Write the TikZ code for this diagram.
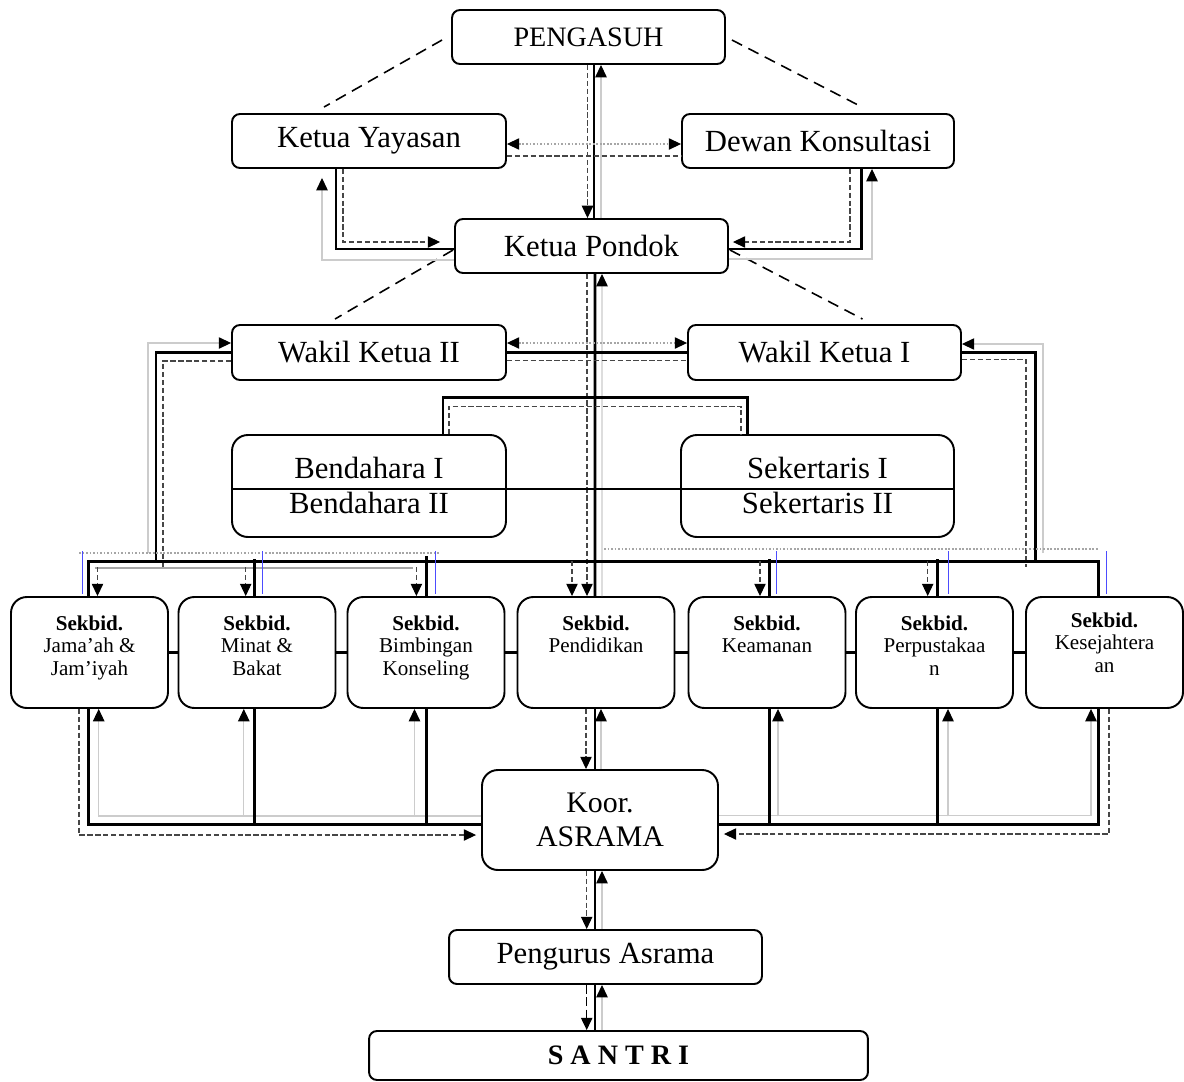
\documentclass[tikz,border=0pt]{standalone}
\usepackage{fontspec}
\setmainfont{Liberation Serif}
\usetikzlibrary{arrows.meta,calc}
\begin{document}
\begin{tikzpicture}[x=0.02cm,y=-0.02cm,
  box/.style={draw, fill=white, line width=1.1pt, rounded corners=4.5pt, inner sep=0pt, align=center, font=\fontsize{17.5}{20}\selectfont},
  sbox/.style={draw, fill=white, line width=1.1pt, rounded corners=9pt, minimum width=3.14cm, minimum height=2.22cm, inner sep=0pt},
  stext/.style={anchor=north, align=center, inner sep=0pt, font=\fontsize{12}{13}\selectfont},
  thk/.style={line width=1.7pt, line cap=rect},
  dsh/.style={draw=gray!55!black, line width=0.6pt, dash pattern=on 3pt off 1.5pt},
  lgt/.style={draw=gray!40, line width=0.6pt},
  dotg/.style={draw=gray!70, line width=0.6pt, dash pattern=on 1pt off 1pt},
  diag/.style={line width=0.9pt, dash pattern=on 6.5pt off 4pt},
  midg/.style={draw=gray!70, line width=1pt},
  bluel/.style={draw=blue!70, line width=0.3pt},
  tip/.style={-{Triangle[length=7pt,width=6.5pt,color=black]}},
  dtip/.style={{Triangle[length=7pt,width=6.5pt,color=black]}-{Triangle[length=7pt,width=6.5pt,color=black]}}
]
\useasboundingbox (0,0) rectangle (1184,1082);
\fill[white] (0,0) rectangle (1184,1082);

% ---------- nodes ----------
\node[box, minimum width=5.46cm, minimum height=1.08cm, font=\fontsize{16}{18}\selectfont] (pg) at (588.5,37) {PENGASUH};
\node[box, minimum width=5.48cm, minimum height=1.08cm] (ky) at (369,141) {Ketua Yayasan};
\node[box, minimum width=5.44cm, minimum height=1.08cm] (dk) at (818,141) {Dewan Konsultasi};
\node[box, minimum width=5.46cm, minimum height=1.08cm] (kp) at (591.5,246) {Ketua Pondok};
\node[box, minimum width=5.48cm, minimum height=1.1cm] (w2) at (369,352.5) {Wakil Ketua II};
\node[box, minimum width=5.46cm, minimum height=1.1cm] (w1) at (824.5,352.5) {Wakil Ketua I};
\node[box, rounded corners=9pt, minimum width=5.48cm, minimum height=2.04cm] (bd) at (369,486) {};
\node[box, rounded corners=9pt, minimum width=5.46cm, minimum height=2.04cm] (sk) at (817.5,486) {};
\node[inner sep=0pt, font=\fontsize{17.5}{20}\selectfont] (bd1) at (369,468) {Bendahara I};
\node[inner sep=0pt, font=\fontsize{17.5}{20}\selectfont] (bd2) at (369,503) {Bendahara II};
\node[inner sep=0pt, font=\fontsize{17.5}{20}\selectfont] (sk1) at (817.5,468) {Sekertaris I};
\node[inner sep=0pt, font=\fontsize{17.5}{20}\selectfont] (sk2) at (817.5,503) {Sekertaris II};

\node[sbox] (s1) at (89.5,652.5) {};
\node[sbox] (s2) at (257,652.5) {};
\node[sbox] (s3) at (426,652.5) {};
\node[sbox] (s4) at (596,652.5) {};
\node[sbox] (s5) at (767,652.5) {};
\node[sbox] (s6) at (934.5,652.5) {};
\node[sbox] (s7) at (1104.5,652.5) {};
\node[stext] (s1t) at ($(s1.north)+(0,19)$) {\textbf{Sekbid.}\\Jama’ah \&\\Jam’iyah};
\node[stext] (s2t) at ($(s2.north)+(0,19)$) {\textbf{Sekbid.}\\Minat \&\\Bakat};
\node[stext] (s3t) at ($(s3.north)+(0,19)$) {\textbf{Sekbid.}\\Bimbingan\\Konseling};
\node[stext] (s4t) at ($(s4.north)+(0,19)$) {\textbf{Sekbid.}\\Pendidikan};
\node[stext] (s5t) at ($(s5.north)+(0,19)$) {\textbf{Sekbid.}\\Keamanan};
\node[stext] (s6t) at ($(s6.north)+(0,19)$) {\textbf{Sekbid.}\\Perpustakaa\\n};
\node[stext] (s7t) at ($(s7.north)+(0,16)$) {\textbf{Sekbid.}\\Kesejahtera\\an};

\node[box, rounded corners=9pt, minimum width=4.72cm, minimum height=2cm, font=\fontsize{17}{19}\selectfont] (ka) at (600,820) {Koor.\\ASRAMA};
\node[box, minimum width=6.26cm, minimum height=1.08cm] (pa) at (605.5,957) {Pengurus Asrama};
\node[box, minimum width=9.98cm, minimum height=0.98cm, font=\fontsize{16}{18}\selectfont\bfseries] (st) at (618.5,1055.5) {S A N T R I};

% ---------- diagonal dashed links ----------
\draw[diag] ($(pg.west)+(-9,3)$) -- ($(ky.north)+(-45,-6)$);
\draw[diag] ($(pg.east)+(6,3)$) -- ($(dk.north)+(44,-6)$);
\draw[diag] ($(kp.west)+(-1,4)$) -- ($(w2.north)+(-34,-5)$);
\draw[diag] ($(kp.east)+(1,4)$) -- ($(w1.north)+(38,-5)$);

% ---------- center column ----------
\draw[thk] ($(pg.south)+(5.5,0)$) -- ($(kp.north)+(2.5,0)$);
\draw[dsh,tip] ($(pg.south)+(-1,0)$) -- ($(kp.north)+(-4,0)$);
\draw[lgt,tip] ($(kp.north)+(9.5,0)$) -- ($(pg.south)+(12.5,0)$);

\draw[thk] ($(kp.south)+(3.5,0)$) -- ($(s4.north)+(-1,0)$);
\draw[dsh,tip] ($(kp.south)+(-4.5,0)$) -- ($(s4.north)+(-9,0)$);
\draw[lgt,tip] ($(s4.north)+(6,0)$) -- ($(kp.south)+(10.5,0)$);

\draw[thk] ($(s4.south)+(-1,0)$) -- ($(ka.north)+(-5,0)$);
\draw[dsh,tip] ($(s4.south)+(-10,0)$) -- ($(ka.north)+(-14,0)$);
\draw[lgt,tip] ($(ka.north)+(1,0)$) -- ($(s4.south)+(5,0)$);

\draw[thk] ($(ka.south)+(-5,0)$) -- ($(pa.north)+(-10.5,0)$);
\draw[dsh,tip] ($(ka.south)+(-13.3,0)$) -- ($(pa.north)+(-18.8,0)$);
\draw[lgt,tip] ($(pa.north)+(-3.5,0)$) -- ($(ka.south)+(2,0)$);

\draw[thk] ($(pa.south)+(-10.5,0)$) -- ($(st.north)+(-23.5,0)$);
\draw[line width=0.8pt, dash pattern=on 5pt off 2pt, tip] ($(pa.south)+(-18.8,0)$) -- ($(st.north)+(-31.8,0)$);
\draw[lgt,tip] ($(st.north)+(-16.5,0)$) -- ($(pa.south)+(-3.5,0)$);

% ---------- Yayasan / Dewan ----------
\draw[dotg,dtip] ($(ky.east)+(0,3)$) -- ($(dk.west)+(0,3)$);
\draw[dsh] ($(ky.east)+(0,15)$) -- ($(dk.west)+(0,15)$);

\draw[thk] ($(ky.south)+(-33,0)$) |- ($(kp.west)+(0,3)$);
\draw[dsh,tip] ($(ky.south)+(-26,0)$) |- ($(kp.west)+(-14,-4)$);
\draw[lgt,tip] ($(kp.west)+(0,14)$) -| ($(ky.south)+(-47,9)$);

\draw[thk] ($(dk.south)+(43,0)$) |- ($(kp.east)+(0,3)$);
\draw[dsh,tip] ($(dk.south)+(32,0)$) |- ($(kp.east)+(4,-4)$);
\draw[lgt,tip] ($(kp.east)+(0,13)$) -| ($(dk.south)+(54,0)$);

% ---------- Wakil Ketua ----------
\draw[dotg,dtip] ($(w2.east)+(0,-9.5)$) -- ($(w1.west)+(0,-9.5)$);
\draw[thk] (w2.east) -- (w1.west);
\draw[dsh] ($(w2.east)+(0,8)$) -- ($(w1.west)+(0,8)$);

\coordinate (cW2t) at (156,561);
\coordinate (cW2d) at (163,567);
\coordinate (cW2l) at (148,553);
\draw[thk] (w2.west) -| (cW2t);
\draw[dsh] ($(w2.west)+(0,8.5)$) -| (cW2d);
\draw[lgt,tip] (cW2l) |- ($(w2.west)+(0,-9.5)$);

\coordinate (cW1t) at (1035,561);
\coordinate (cW1d) at (1026,567);
\coordinate (cW1l) at (1043,553);
\draw[thk] (w1.east) -| (cW1t);
\draw[dsh] ($(w1.east)+(0,7)$) -| (cW1d);
\draw[lgt,tip] (cW1l) |- ($(w1.east)+(0,-8.5)$);

% ---------- Bendahara / Sekertaris ----------
\draw[thk] ($(bd.north)+(74,0)$) |- ($(sk.north)+(-70.5,-37)$) -- ($(sk.north)+(-70.5,0)$);
\draw[dsh] ($(bd.north)+(80,0)$) |- ($(sk.north)+(-76.5,-28)$) -- ($(sk.north)+(-76.5,0)$);
\draw[line width=1.1pt] ($(bd.west)+(0,3)$) -- ($(bd.east)+(0,3)$);
\draw[line width=1.1pt] ($(sk.west)+(0,3)$) -- ($(sk.east)+(0,3)$);
\draw[line width=1.1pt] ($(bd.east)+(0,3)$) -- ($(sk.west)+(0,3)$);

% ---------- top bus ----------
\coordinate (busM) at (600,561);
\coordinate (gL1) at (79,553);
\coordinate (gL2) at (439,553);
\coordinate (gR1) at (604,549);
\coordinate (gR2) at (1098,549);
\coordinate (gM1) at (94.5,568);
\coordinate (gM2) at (413,568);
\draw[dotg] (gL1) -- (gL2);
\draw[dotg] (gR1) -- (gR2);
\draw[midg] (gM1) -- (gM2);
\draw[thk] ($(s1.north)+(-0.7,0)$) |- (busM) -| ($(s7.north)+(-6.5,0)$);
\draw[thk] ($(s2.north)+(-2.5,0)$) -- ++(0,-36);
\draw[thk] ($(s3.north)+(0.7,0)$) -- ++(0,-39);
\draw[thk] ($(s5.north)+(2.6,0)$) -- ++(0,-36);
\draw[thk] ($(s6.north)+(2.5,0)$) -- ++(0,-36);

\draw[dsh,tip] ($(s1.north)+(8,-29)$) -- ($(s1.north)+(8,0)$);
\draw[dsh,tip] ($(s2.north)+(-11.3,-29)$) -- ($(s2.north)+(-11.3,0)$);
\draw[dsh,tip] ($(s3.north)+(-9.6,-29)$) -- ($(s3.north)+(-9.6,0)$);
\draw[dsh,tip] ($(s4.north)+(-24,-35)$) -- ($(s4.north)+(-24,0)$);
\draw[dsh,tip] ($(s5.north)+(-7,-35)$) -- ($(s5.north)+(-7,0)$);
\draw[dsh,tip] ($(s6.north)+(-6.8,-35)$) -- ($(s6.north)+(-6.8,0)$);

\draw[bluel] ($(s1.north)+(-7.5,-45)$) -- ($(s1.north)+(-7.5,-2)$);
\draw[bluel] ($(s2.north)+(5.5,-45)$) -- ($(s2.north)+(5.5,-2)$);
\draw[bluel] ($(s3.north)+(9,-45)$) -- ($(s3.north)+(9,-2)$);
\draw[bluel] ($(s5.north)+(9.5,-45)$) -- ($(s5.north)+(9.5,-2)$);
\draw[bluel] ($(s6.north)+(13.5,-45)$) -- ($(s6.north)+(13.5,-2)$);
\draw[bluel] ($(s7.north)+(1.5,-45)$) -- ($(s7.north)+(1.5,-2)$);

% ---------- links between Sekbid boxes ----------
\draw[thk] (s1.east) -- (s2.west);
\draw[thk] (s2.east) -- (s3.west);
\draw[thk] (s3.east) -- (s4.west);
\draw[thk] (s4.east) -- (s5.west);
\draw[thk] (s5.east) -- (s6.west);
\draw[thk] (s6.east) -- (s7.west);

% ---------- bottom bus ----------
\draw[lgt,tip] ($(ka.west)+(0,-4)$) -| ($(s1.south)+(9.2,0)$);
\draw[lgt,tip] ($(s2.south)+(-13.2,108)$) -- ($(s2.south)+(-13.2,0)$);
\draw[lgt,tip] ($(s3.south)+(-11.5,108)$) -- ($(s3.south)+(-11.5,0)$);
\draw[lgt,tip] ($(ka.east)+(0,-4.5)$) -| ($(s7.south)+(-13.5,0)$);
\draw[lgt,tip] ($(s5.south)+(11,107.5)$) -- ($(s5.south)+(11,0)$);
\draw[lgt,tip] ($(s6.south)+(13.5,107.5)$) -- ($(s6.south)+(13.5,0)$);

\draw[thk] ($(s1.south)+(-0.7,0)$) |- ($(ka.west)+(0,4)$);
\draw[thk] ($(s2.south)+(-2.5,0)$) -- ++(0,116);
\draw[thk] ($(s3.south)+(0.7,0)$) -- ++(0,116);
\draw[thk] ($(s7.south)+(-6.5,0)$) |- ($(ka.east)+(0,4)$);
\draw[thk] ($(s5.south)+(2.6,0)$) -- ++(0,116);
\draw[thk] ($(s6.south)+(2.5,0)$) -- ++(0,116);

\draw[dsh,tip] ($(s1.south)+(-10.5,0)$) |- ($(ka.west)+(-5,15)$);
\draw[dsh,tip] ($(s7.south)+(4.5,0)$) |- ($(ka.east)+(5,14)$);
\end{tikzpicture}
\end{document}
